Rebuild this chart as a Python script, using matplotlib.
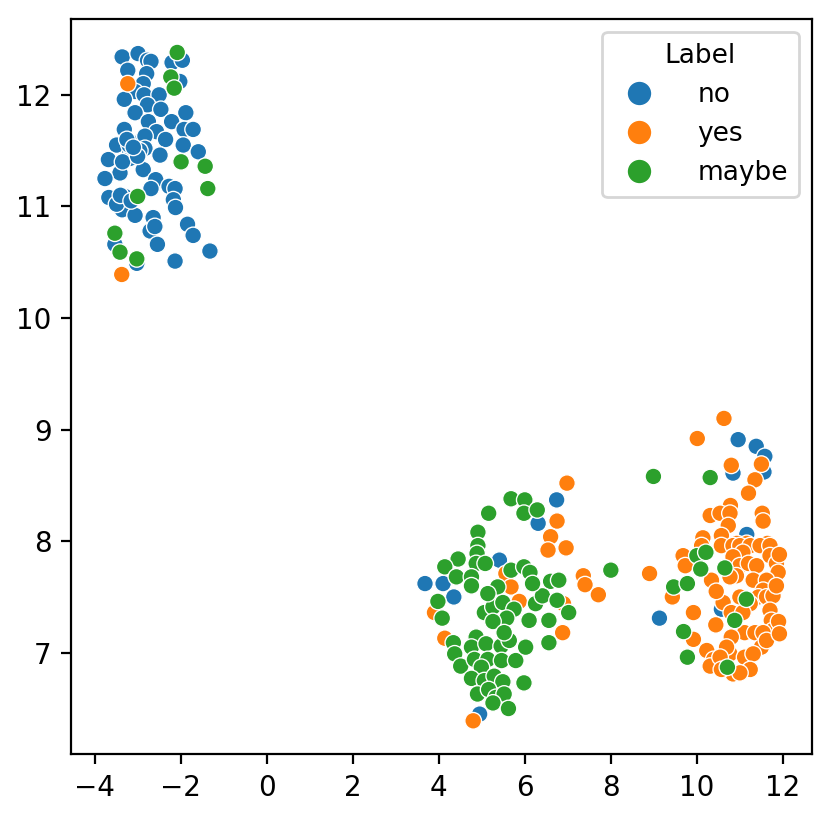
import pandas as pd
import matplotlib
matplotlib.use("Agg")
import matplotlib.pyplot as plt
import seaborn as sns

# cluster top-left
no_top = [(-3.36, 12.34), (-2.99, 12.37), (-2.77, 12.31), (-2.69, 12.30), (-2.20, 12.29),
          (-1.96, 12.31), (-3.23, 12.22), (-2.79, 12.19), (-2.02, 12.12), (-2.87, 12.10),
          (-3.06, 12.03), (-3.31, 11.96), (-2.85, 12.00), (-2.50, 12.00), (-2.77, 11.91),
          (-2.46, 11.87), (-3.06, 11.84), (-1.88, 11.84), (-2.21, 11.76), (-2.75, 11.76),
          (-3.31, 11.69), (-2.56, 11.67), (-1.92, 11.69), (-1.71, 11.69), (-2.89, 11.60),
          (-2.83, 11.63), (-2.35, 11.60), (-1.94, 11.55), (-3.49, 11.55), (-3.18, 11.48),
          (-3.68, 11.42), (-1.59, 11.49), (-2.83, 11.52), (-3.02, 11.48), (-3.18, 11.43),
          (-2.48, 11.46), (-2.87, 11.33), (-3.41, 11.30), (-3.76, 11.25), (-2.58, 11.24),
          (-2.69, 11.16), (-2.27, 11.18), (-2.13, 11.16), (-3.67, 11.08), (-3.30, 11.09),
          (-3.36, 10.97), (-3.49, 11.02), (-3.06, 10.92), (-2.17, 11.06), (-2.12, 10.99),
          (-2.64, 10.90), (-2.71, 10.78), (-2.60, 10.82), (-1.84, 10.84), (-1.71, 10.74),
          (-3.53, 10.66), (-2.54, 10.66), (-1.32, 10.60), (-3.02, 10.49), (-2.13, 10.51),
          (-3.20, 11.55), (-2.95, 11.50), (-3.35, 11.40), (-3.00, 11.45), (-3.25, 11.60),
          (-3.10, 11.53), (-3.40, 11.10), (-3.15, 11.05)]
yes_top = [(-3.23, 12.10), (-3.37, 10.39)]
maybe_top = [(-2.08, 12.38), (-2.23, 12.16), (-2.15, 12.06), (-1.99, 11.40), (-1.43, 11.36),
             (-1.37, 11.16), (-3.00, 11.09), (-3.53, 10.76), (-3.41, 10.59), (-3.02, 10.53)]

# cluster middle
no_mid = [(6.74, 8.37), (6.31, 8.16), (5.41, 7.83), (3.68, 7.62), (4.10, 7.62),
          (4.35, 7.50), (4.95, 6.45)]
yes_mid = [(6.98, 8.52), (6.75, 8.18), (6.60, 8.04), (6.54, 7.92), (6.96, 7.94),
           (5.56, 7.71), (7.36, 7.69), (5.68, 7.59), (7.40, 7.61), (7.71, 7.52),
           (3.90, 7.36), (5.87, 7.46), (6.90, 7.44), (6.88, 7.18), (4.14, 7.13),
           (4.80, 6.39)]
maybe_mid = [(5.68, 8.38), (6.00, 8.37), (5.98, 8.25), (6.29, 8.28), (5.16, 8.25),
             (4.91, 8.08), (4.91, 7.96), (4.89, 7.89), (4.45, 7.84), (4.14, 7.77),
             (4.87, 7.80), (5.08, 7.80), (5.68, 7.74), (5.98, 7.77), (6.12, 7.72),
             (4.41, 7.68), (4.76, 7.68), (6.60, 7.64), (6.79, 7.65), (8.00, 7.74),
             (5.37, 7.59), (3.98, 7.46), (4.08, 7.31), (5.06, 7.36), (5.26, 7.41),
             (5.49, 7.45), (5.75, 7.39), (5.58, 7.31), (5.26, 7.28), (6.10, 7.29),
             (6.25, 7.44), (6.41, 7.51), (6.75, 7.47), (7.02, 7.36), (6.56, 7.29),
             (6.56, 7.09), (6.18, 7.62), (5.14, 7.53), (4.76, 7.60), (4.34, 7.09),
             (4.37, 6.99), (4.51, 6.88), (4.87, 7.14), (4.76, 7.05), (5.10, 7.08),
             (4.83, 6.94), (5.14, 6.94), (4.99, 6.87), (5.45, 7.06), (5.64, 7.11),
             (5.52, 7.18), (5.46, 6.93), (5.79, 6.93), (6.02, 7.05), (4.76, 6.77),
             (5.06, 6.75), (5.29, 6.79), (5.49, 6.74), (5.98, 6.73), (4.90, 6.63),
             (5.16, 6.67), (5.33, 6.60), (5.52, 6.63), (5.26, 6.55), (5.62, 6.50)]

# cluster right
no_right = [(10.96, 8.91), (11.38, 8.85), (11.58, 8.76), (10.84, 8.61), (11.56, 8.62),
            (11.16, 8.06), (9.13, 7.31), (10.57, 7.39)]
yes_right = [(10.63, 9.10), (10.01, 8.92), (10.80, 8.68), (11.50, 8.69), (11.35, 8.55),
             (11.20, 8.43), (10.78, 8.32), (10.31, 8.23), (10.54, 8.25), (10.77, 8.25),
             (11.52, 8.25), (11.54, 8.18), (10.73, 8.14), (10.57, 8.05), (10.14, 8.03),
             (10.93, 7.98), (11.16, 7.98), (11.64, 7.98), (8.90, 7.71), (9.43, 7.50),
             (9.92, 7.36), (9.92, 7.12), (10.44, 7.25), (10.34, 7.65), (9.68, 7.87),
             (9.73, 7.78), (10.61, 7.45), (10.23, 7.02), (10.39, 6.94), (10.31, 6.88),
             (10.77, 6.99), (11.11, 6.96), (10.84, 6.81), (10.11, 7.96), (10.57, 7.96),
             (10.84, 7.96), (11.00, 7.96), (11.24, 7.96), (11.47, 7.96), (11.70, 7.96),
             (11.07, 7.90), (11.70, 7.87), (11.85, 7.80), (11.89, 7.72), (10.84, 7.86),
             (11.00, 7.78), (11.20, 7.80), (11.39, 7.78), (10.92, 7.69), (11.31, 7.65),
             (11.62, 7.65), (10.77, 7.68), (11.54, 7.56), (11.43, 7.50), (11.62, 7.50),
             (11.77, 7.51), (11.24, 7.44), (11.00, 7.50), (10.80, 7.36), (11.07, 7.36),
             (11.70, 7.38), (11.73, 7.29), (11.77, 7.20), (11.11, 7.18), (11.35, 7.18),
             (11.54, 7.18), (10.80, 7.14), (11.50, 7.05), (11.31, 6.99), (11.62, 7.11),
             (10.69, 7.05), (10.54, 6.96), (10.57, 6.85), (11.24, 6.85), (11.00, 6.82),
             (11.92, 7.88), (11.90, 7.28), (11.92, 7.17), (11.85, 7.60), (10.45, 7.55)]
maybe_right = [(8.99, 8.58), (10.31, 8.57), (9.46, 7.59), (9.78, 7.62), (9.69, 7.19),
               (9.78, 6.96), (10.00, 7.87), (10.21, 7.90), (10.09, 7.75), (10.65, 7.76),
               (11.15, 7.48), (10.88, 7.29), (10.71, 6.87)]

rows = []
for label, groups in [("no", [no_top, no_mid, no_right]),
                      ("yes", [yes_top, yes_mid, yes_right]),
                      ("maybe", [maybe_top, maybe_mid, maybe_right])]:
    for g in groups:
        for x, y in g:
            rows.append((x, y, label))
df = pd.DataFrame(rows, columns=["x", "y", "Label"])

fig = plt.figure(figsize=(4.155, 4.09), dpi=200)
ax = fig.add_axes([0.0854, 0.0779, 0.8914, 0.8989])
sns.scatterplot(data=df, x="x", y="y", hue="Label", hue_order=["no", "yes", "maybe"], ax=ax)
ax.set_xlim(-4.55, 12.67)
ax.set_ylim(6.09, 12.68)
ax.set_xticks(range(-4, 13, 2))
ax.set_xlabel("")
ax.set_ylabel("")
leg = ax.legend(title="Label", loc="upper right", markerscale=1.5,
                fontsize=9.5, title_fontsize=9.5, handletextpad=1.2)
for h in leg.legend_handles:
    h.set_markeredgecolor("white")
    h.set_markeredgewidth(0.6)
fig.savefig("out.png", dpi=200)
